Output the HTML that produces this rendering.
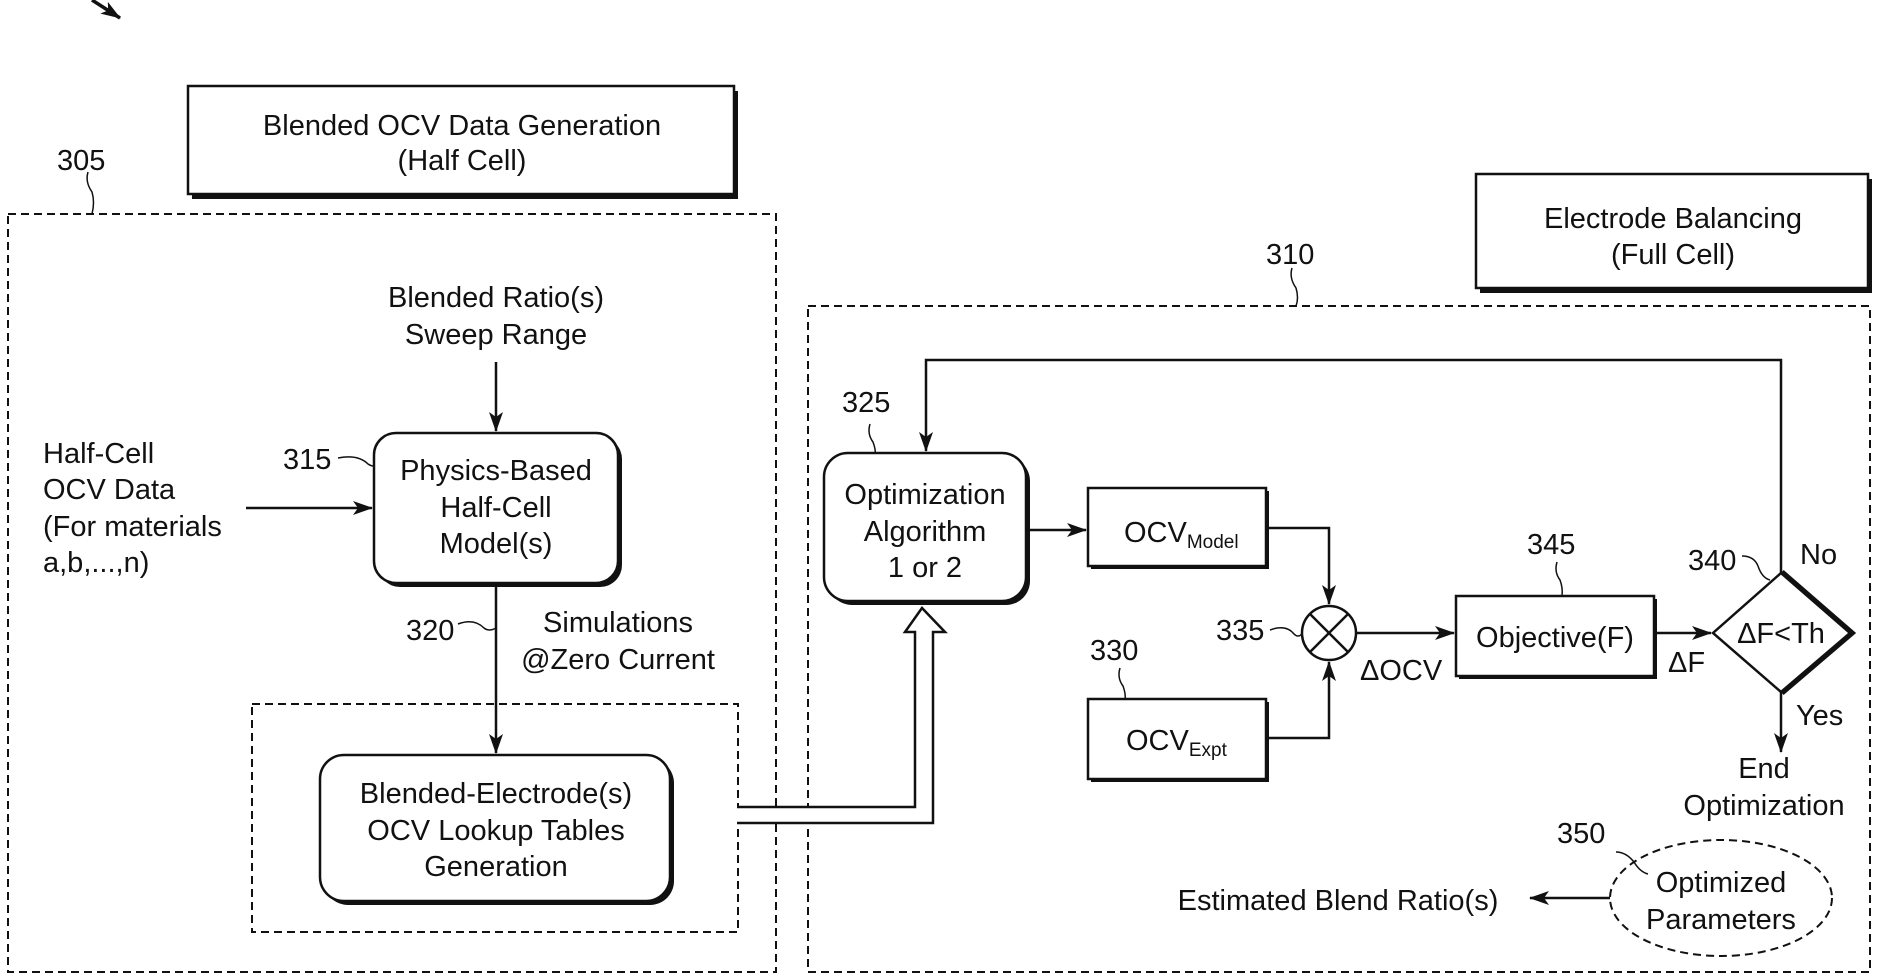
<!DOCTYPE html>
<html><head><meta charset="utf-8"><style>
html,body{margin:0;padding:0;background:#fff;}
svg{display:block;}
text{font-family:"Liberation Sans",Arial,sans-serif;font-size:29px;fill:#111;}
</style></head><body>
<svg width="1878" height="977" viewBox="0 0 1878 977" xmlns="http://www.w3.org/2000/svg">
<defs>
<marker id="ah" markerWidth="20" markerHeight="14" refX="19" refY="7" orient="auto" markerUnits="userSpaceOnUse">
<path d="M0,0 L20,7 L0,14 L5,7 Z" fill="#111"/></marker>
</defs>
<g stroke="#111" fill="none">
<line x1="92" y1="0" x2="120" y2="18" stroke-width="3.5" marker-end="url(#ah)"/>

<rect x="192" y="91" width="546" height="108" fill="#111" stroke="none"/>
<rect x="188" y="86" width="546" height="108" fill="#fff" stroke-width="2.5"/>
<rect x="1480" y="179" width="392" height="114" fill="#111" stroke="none"/>
<rect x="1476" y="174" width="392" height="114" fill="#fff" stroke-width="2.5"/>

<rect x="8" y="214" width="768" height="758" stroke-width="2" stroke-dasharray="8,5"/>
<rect x="252" y="704" width="486" height="228" stroke-width="2" stroke-dasharray="8,5"/>
<rect x="808" y="306" width="1062" height="666" stroke-width="2" stroke-dasharray="8,5"/>

<path d="M88,172 q-3,10 4,20 q3,10 0,22" stroke-width="1.5"/>
<path d="M1292,268 q-3,10 4,20 q3,10 0,18" stroke-width="1.5"/>
<path d="M338,458 q20,-4 30,6 q6,4 10,0" stroke-width="1.5"/>
<path d="M458,624 q16,-6 26,4 q5,4 12,0" stroke-width="1.5"/>
<path d="M870,424 q-3,10 3,18 q3,8 2,12" stroke-width="1.5"/>
<path d="M1120,668 q-3,10 3,18 q3,8 2,14" stroke-width="1.5"/>
<path d="M1270,630 q16,-6 24,4 q4,4 8,0" stroke-width="1.5"/>
<path d="M1557,562 q-3,10 3,18 q3,8 2,16" stroke-width="1.5"/>
<path d="M1742,556 q12,0 16,10 q4,12 12,14" stroke-width="1.5"/>
<path d="M1616,852 q10,0 18,10 q6,10 14,12" stroke-width="1.5"/>

<rect x="378" y="437" width="244" height="150" rx="22" fill="#111" stroke="none"/>
<rect x="374" y="433" width="244" height="150" rx="22" fill="#fff" stroke-width="2.5"/>
<rect x="324" y="759" width="350" height="146" rx="24" fill="#111" stroke="none"/>
<rect x="320" y="755" width="350" height="146" rx="24" fill="#fff" stroke-width="2.5"/>
<rect x="828" y="457" width="202" height="148" rx="24" fill="#111" stroke="none"/>
<rect x="824" y="453" width="202" height="148" rx="24" fill="#fff" stroke-width="2.5"/>
<rect x="1091" y="491" width="178" height="78" fill="#111" stroke="none"/>
<rect x="1088" y="488" width="178" height="78" fill="#fff" stroke-width="2.5"/>
<rect x="1091" y="702" width="178" height="80" fill="#111" stroke="none"/>
<rect x="1088" y="699" width="178" height="80" fill="#fff" stroke-width="2.5"/>
<rect x="1459" y="599" width="198" height="80" fill="#111" stroke="none"/>
<rect x="1456" y="596" width="198" height="80" fill="#fff" stroke-width="2.5"/>

<path d="M1781,573 L1850,633 L1781,692" stroke-width="8"/>
<path d="M1781,573 L1850,633 L1781,692 L1713,633 Z" fill="#fff" stroke-width="2.5"/>

<circle cx="1329" cy="633" r="27" fill="#fff" stroke-width="2.5"/>
<line x1="1310" y1="614" x2="1348" y2="652" stroke-width="2.5"/>
<line x1="1348" y1="614" x2="1310" y2="652" stroke-width="2.5"/>

<ellipse cx="1721" cy="898" rx="111" ry="58" stroke-width="2" stroke-dasharray="8,5"/>

<line x1="496" y1="362" x2="496" y2="431" stroke-width="2.5" marker-end="url(#ah)"/>
<line x1="246" y1="508" x2="372" y2="508" stroke-width="2.5" marker-end="url(#ah)"/>
<line x1="496" y1="583" x2="496" y2="753" stroke-width="2.5" marker-end="url(#ah)"/>
<line x1="1026" y1="530" x2="1086" y2="530" stroke-width="2.5" marker-end="url(#ah)"/>
<polyline points="1266,528 1329,528 1329,604" stroke-width="2.5" marker-end="url(#ah)"/>
<polyline points="1266,738 1329,738 1329,662" stroke-width="2.5" marker-end="url(#ah)"/>
<line x1="1356" y1="633" x2="1454" y2="633" stroke-width="2.5" marker-end="url(#ah)"/>
<line x1="1654" y1="633" x2="1711" y2="633" stroke-width="2.5" marker-end="url(#ah)"/>
<polyline points="1781,573 1781,360 926,360 926,451" stroke-width="2.5" marker-end="url(#ah)"/>
<line x1="1781" y1="692" x2="1781" y2="752" stroke-width="2.5" marker-end="url(#ah)"/>
<line x1="1610" y1="898" x2="1530" y2="898" stroke-width="2.5" marker-end="url(#ah)"/>

<path d="M737,807 L915,807 L915,632 L905,632 L922,608 L945,632 L933,632 L933,823 L737,823" fill="#fff" stroke-width="2.5"/>
</g>

<g text-anchor="middle">
<text x="462" y="135">Blended OCV Data Generation</text>
<text x="462" y="170">(Half Cell)</text>
<text x="1673" y="228">Electrode Balancing</text>
<text x="1673" y="264">(Full Cell)</text>
<text x="496" y="307">Blended Ratio(s)</text>
<text x="496" y="344">Sweep Range</text>
<text x="496" y="480">Physics-Based</text>
<text x="496" y="517">Half-Cell</text>
<text x="496" y="553">Model(s)</text>
<text x="618" y="632">Simulations</text>
<text x="618" y="669">@Zero Current</text>
<text x="496" y="803">Blended-Electrode(s)</text>
<text x="496" y="840">OCV Lookup Tables</text>
<text x="496" y="876">Generation</text>
<text x="925" y="504">Optimization</text>
<text x="925" y="541">Algorithm</text>
<text x="925" y="577">1 or 2</text>
<text x="1555" y="647">Objective(F)</text>
<text x="1781" y="643">ΔF&lt;Th</text>
<text x="1764" y="778">End</text>
<text x="1764" y="815">Optimization</text>
<text x="1721" y="892">Optimized</text>
<text x="1721" y="929">Parameters</text>
<text x="1338" y="910">Estimated Blend Ratio(s)</text>
</g>
<text x="43" y="463">Half-Cell</text>
<text x="43" y="499">OCV Data</text>
<text x="43" y="536">(For materials</text>
<text x="43" y="572">a,b,...,n)</text>
<text x="57" y="170">305</text>
<text x="1266" y="264">310</text>
<text x="283" y="469">315</text>
<text x="406" y="640">320</text>
<text x="842" y="412">325</text>
<text x="1090" y="660">330</text>
<text x="1216" y="640">335</text>
<text x="1527" y="554">345</text>
<text x="1688" y="570">340</text>
<text x="1557" y="843">350</text>
<text x="1800" y="564">No</text>
<text x="1796" y="725">Yes</text>
<text x="1360" y="680">ΔOCV</text>
<text x="1668" y="672">ΔF</text>
<text x="1124" y="542">OCV<tspan font-size="19" dy="6">Model</tspan></text>
<text x="1126" y="750">OCV<tspan font-size="19" dy="6">Expt</tspan></text>
</svg>
</body></html>
